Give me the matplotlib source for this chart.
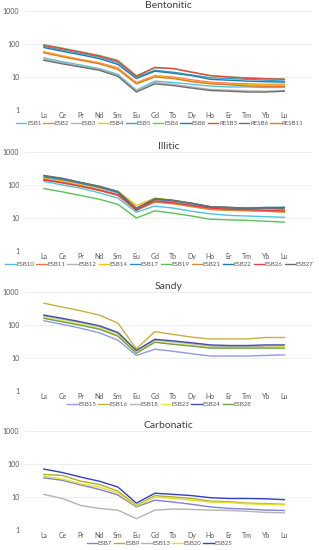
import matplotlib
matplotlib.use("Agg")
import matplotlib.pyplot as plt

plt.rcParams["font.family"] = ["Lato", "DejaVu Sans"]

ree = ["La", "Ce", "Pr", "Nd", "Sm", "Eu", "Gd", "Tb", "Dy", "Ho", "Er", "Tm", "Yb", "Lu"]

# Bentonitic
bent_names = ["ESB1", "ESB2", "ESB3", "ESB4", "ESB5", "ESB6", "ESB8", "RESB3", "RESB6", "RESB11"]
bent_colors = ["#4fc3de", "#f47c6a", "#b4b4b4", "#ffc000", "#3a9fd0", "#6cbf62", "#1f7fa0", "#e8483a", "#6e6e6e", "#e07a2c"]
bent_values = [
    [38, 29, 23, 18, 12, 4.0, 7.5, 6.8, 6.0, 5.3, 5.0, 5.0, 4.8, 4.8],
    [58, 44, 34, 27, 19, 6.8, 11, 10, 8.2, 7.0, 6.5, 6.2, 6.0, 6.0],
    [35, 27, 21, 17, 11, 3.8, 6.8, 6.0, 5.0, 4.2, 4.0, 3.8, 3.7, 3.9],
    [56, 43, 33, 26, 18, 6.5, 10.5, 9.5, 7.5, 6.5, 6.0, 5.8, 5.7, 5.7],
    [85, 66, 52, 40, 27, 10, 16, 14, 11.5, 9.5, 9.0, 8.5, 8.0, 7.5],
    [95, 75, 58, 45, 32, 11, 19, 18, 14, 11, 10, 9.5, 9.0, 8.7],
    [78, 60, 47, 36, 24, 9.0, 15, 13, 11, 8.5, 8.0, 7.5, 7.2, 7.0],
    [92, 72, 56, 43, 30, 10.5, 19.5, 18, 14, 11, 10, 9.2, 8.8, 8.5],
    [32, 25, 20, 16, 10.5, 3.5, 6.2, 5.5, 4.6, 3.9, 3.7, 3.5, 3.5, 3.7],
    [54, 41, 32, 25, 17, 6.2, 10, 9.0, 7.2, 6.2, 5.8, 5.4, 5.2, 5.2],
]

# Illitic
ill_names = ["ESB10", "ESB11", "ESB12", "ESB14", "ESB17", "ESB19", "ESB21", "ESB22", "ESB26", "ESB27"]
ill_colors = ["#4fc3de", "#f0744a", "#b4b4b4", "#ffc000", "#2f8ed0", "#5cbf5c", "#d98a3a", "#1f7f9f", "#e04040", "#6e6e6e"]
ill_values = [
    [130, 100, 80, 58, 40, 15, 23, 20, 16, 13.5, 12, 11.5, 11, 10.5],
    [150, 120, 95, 72, 52, 19, 32, 28, 23, 19, 18, 17, 17, 16],
    [160, 130, 100, 78, 56, 20, 35, 30, 25, 20, 19, 18, 18, 18],
    [165, 135, 105, 82, 65, 24, 40, 35, 28, 22, 20, 19, 18, 17],
    [175, 145, 112, 86, 60, 18, 37, 33, 27, 21, 20, 19, 20, 21],
    [78, 62, 48, 37, 26, 10, 16.5, 14, 11.5, 9.2, 8.8, 8.5, 8.0, 7.5],
    [140, 115, 90, 68, 48, 17, 30, 27, 22, 18, 17, 16.5, 16, 15],
    [190, 155, 118, 90, 62, 17, 38, 34, 28, 22, 21, 20, 21, 21],
    [145, 118, 92, 70, 50, 18, 33, 29, 24, 20, 18.5, 18, 17, 16.5],
    [195, 160, 120, 92, 64, 20, 39, 34, 28, 22, 21, 20, 20, 19],
]

# Sandy
sand_names = ["ESB15", "ESB16", "ESB18", "ESB23", "ESB24", "ESB28"]
sand_colors = ["#8f9ae0", "#c8b040", "#b4b4b4", "#e8e840", "#4050a8", "#70a050"]
sand_values = [
    [135, 105, 80, 58, 35, 12, 18.5, 16, 13.5, 11.5, 11.5, 11.5, 12, 12.5],
    [460, 350, 270, 200, 115, 19, 63, 52, 43, 38, 38, 38, 42, 42],
    [190, 150, 118, 90, 55, 16, 35, 31, 27, 23, 22, 22, 23, 23],
    [170, 135, 105, 80, 50, 15, 31, 27, 24, 21, 20, 20, 21, 22],
    [200, 160, 125, 95, 60, 17, 37, 33, 29, 25, 24, 24, 25, 25],
    [160, 125, 98, 75, 46, 14, 30, 26, 23, 20, 20, 20, 20, 20],
]

# Carbonatic
carb_names = ["ESB7", "ESB9", "ESB13", "ESB20", "ESB25"]
carb_colors = ["#8080e0", "#b0b020", "#b4b4b4", "#e0e030", "#3040c0"]
carb_values = [
    [38, 32, 23, 17, 11.5, 5.0, 8.0, 7.0, 6.0, 5.0, 4.5, 4.3, 4.0, 3.9],
    [48, 45, 30, 24, 15, 5.5, 11, 10, 9.0, 7.5, 7.2, 6.5, 6.3, 6.0],
    [12, 9.0, 5.5, 4.5, 4.0, 2.2, 4.0, 4.3, 4.2, 4.0, 3.9, 3.7, 3.4, 3.3],
    [42, 35, 25, 20, 13, 5.3, 10, 9.0, 8.0, 7.0, 6.8, 6.2, 6.0, 5.8],
    [70, 55, 40, 30, 20, 6.5, 13, 12, 11, 9.5, 9.0, 9.0, 8.8, 8.3],
]

panels = [
    ("Bentonitic", bent_names, bent_colors, bent_values, 0.800),
    ("Illitic", ill_names, ill_colors, ill_values, 0.5436),
    ("Sandy", sand_names, sand_colors, sand_values, 0.289),
    ("Carbonatic", carb_names, carb_colors, carb_values, 0.0364),
]

fig = plt.figure(figsize=(3.19, 5.50), dpi=100)
x = list(range(len(ree)))

for title, names, colors, values, bottom in panels:
    ax = fig.add_axes([0.078, bottom, 0.9, 0.18])
    for name, color, vals in zip(names, colors, values):
        ax.plot(x, vals, color=color, lw=1.0, label=name)
    ax.set_yscale("log")
    ax.set_ylim(1, 1000)
    ax.set_xlim(-1.03, 14.5)
    ax.set_yticks([1, 10, 100, 1000])
    ax.set_yticklabels(["1", "10", "100", "1000"])
    ax.minorticks_off()
    ax.set_xticks(x)
    ax.set_xticklabels(ree)
    ax.tick_params(axis="both", length=0, labelsize=5, colors="#595959")
    ax.tick_params(axis="y", pad=4)
    ax.tick_params(axis="x", pad=1.5)
    ax.grid(axis="y", color="#e8e8e8", lw=0.5)
    ax.set_axisbelow(True)
    for s in ax.spines.values():
        s.set_visible(False)
    ax.set_title(title, fontsize=7.5, color="#404040", pad=2)
    fig.legend(handles=ax.get_lines(), loc="center",
               bbox_to_anchor=(0.5, bottom - 0.025), ncol=len(names),
               fontsize=4.4, frameon=False, handlelength=1.7, handletextpad=0.15,
               columnspacing=0.3, labelcolor="#595959", borderaxespad=0, borderpad=0)

fig.savefig("out.png", dpi=100)
